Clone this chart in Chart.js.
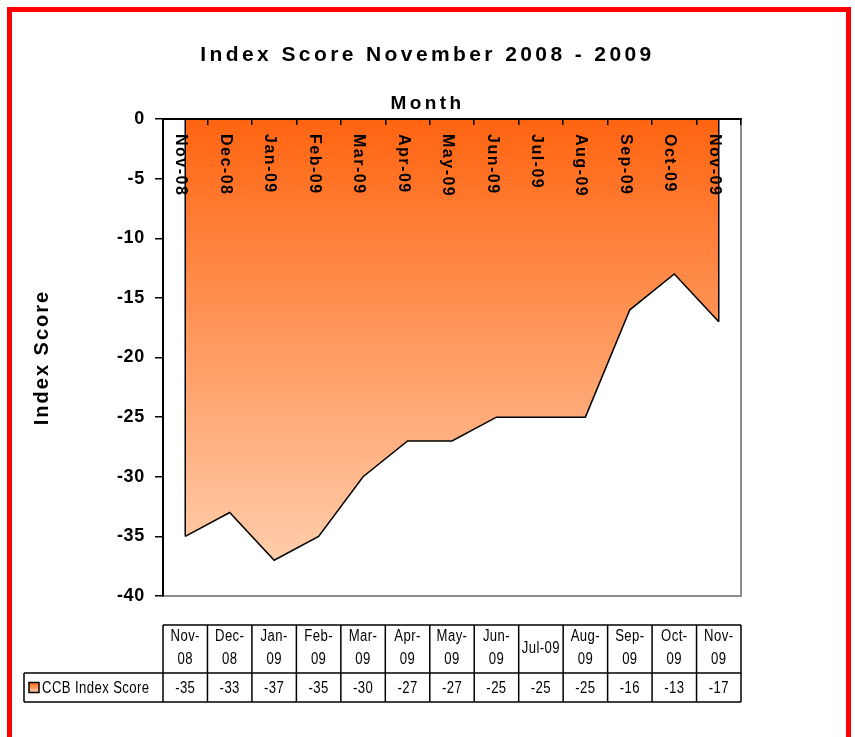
<!DOCTYPE html>
<html><head><meta charset="utf-8">
<script src="https://cdn.jsdelivr.net/npm/chart.js@4.4.1/dist/chart.umd.min.js"></script>
<style>
html,body{margin:0;padding:0;background:#fff;}
#wrap{position:relative;width:855px;height:737px;overflow:hidden;background:#fff;}
#frame{position:absolute;left:7px;top:7px;width:834px;height:800px;border:5px solid #ff0000;pointer-events:none;}
canvas{position:absolute;left:0;top:0;}
</style></head><body>
<div id="wrap"><canvas id="c" width="855" height="737"></canvas><div id="frame"></div></div>
<script>
const categories = ['Nov-08','Dec-08','Jan-09','Feb-09','Mar-09','Apr-09','May-09','Jun-09','Jul-09','Aug-09','Sep-09','Oct-09','Nov-09'];
const indexScores = [-35,-33,-37,-35,-30,-27,-27,-25,-25,-25,-16,-13,-17];
const seriesName = 'CCB Index Score';
const yTicks = [0,-5,-10,-15,-20,-25,-30,-35,-40];
const chartTitle = 'Index Score November 2008 - 2009';
const xTitle = 'Month';
const yTitle = 'Index Score';

const FONT = "'Liberation Sans', Arial, sans-serif";
const NARROW_SCALE = 0.82;

function makeGradient(c, y0, y1) {
  const g = c.createLinearGradient(0, y0, 0, y1);
  g.addColorStop(0, '#FF6410');
  g.addColorStop(1, '#FFCDAB');
  return g;
}

function fillGradient(context) {
  const chart = context.chart;
  if (!chart.chartArea || !chart.scales.y) return '#FF9955';
  const y = chart.scales.y;
  return makeGradient(chart.ctx, y.getPixelForValue(0), y.getPixelForValue(Math.min(...indexScores)));
}

function narrowText(ctx, text, x, y) {
  ctx.save();
  ctx.translate(x, y);
  ctx.scale(NARROW_SCALE, 1);
  ctx.fillText(text, 0, 0);
  ctx.restore();
}

function drawTable(chart) {
  const ctx = chart.ctx, x = chart.scales.x, area = chart.chartArea;
  const colW = x.getPixelForValue(1) - x.getPixelForValue(0);
  const top = area.bottom + 29, mid = area.bottom + 77, bot = area.bottom + 106;
  const legendLeft = 24;
  const line = (a, b, c, d) => { ctx.beginPath(); ctx.moveTo(a, b); ctx.lineTo(c, d); ctx.stroke(); };
  ctx.save();
  ctx.letterSpacing = '0.5px';
  ctx.strokeStyle = '#000';
  ctx.lineWidth = 1.5;
  const left = x.getPixelForValue(0) - colW / 2;
  const right = x.getPixelForValue(categories.length - 1) + colW / 2;
  line(left, top, right, top);
  line(legendLeft, mid, right, mid);
  line(legendLeft, bot, right, bot);
  line(legendLeft, mid, legendLeft, bot);
  for (let i = 0; i <= categories.length; i++) {
    const xx = left + i * colW;
    line(xx, top, xx, bot);
  }
  ctx.fillStyle = '#000';
  ctx.font = '16px ' + FONT;
  ctx.textAlign = 'center';
  ctx.textBaseline = 'middle';
  categories.forEach((lab, i) => {
    const cx = x.getPixelForValue(i);
    const w = ctx.measureText(lab).width * NARROW_SCALE;
    const k = lab.indexOf('-');
    if (w > colW - 5 && k >= 0) {
      narrowText(ctx, lab.slice(0, k + 1), cx, top + 12);
      narrowText(ctx, lab.slice(k + 1), cx, top + 35);
    } else {
      narrowText(ctx, lab, cx, (top + mid) / 2);
    }
    narrowText(ctx, String(indexScores[i]), cx, (mid + bot) / 2 + 1);
  });
  const sy = (mid + bot) / 2 - 5;
  ctx.fillStyle = makeGradient(ctx, sy, sy + 10);
  ctx.fillRect(29, sy, 10, 10);
  ctx.lineWidth = 1.5;
  ctx.strokeRect(29, sy, 10, 10);
  ctx.fillStyle = '#000';
  ctx.textAlign = 'left';
  narrowText(ctx, seriesName, 42, (mid + bot) / 2 + 1);
  ctx.restore();
}

// letter-spacing switches placed between Chart.js drawing layers (z order)
const spacingLayers = [[-3, '2px'], [-1.5, '0.7px'], [-0.5, '3.4px']];

const stylePlugin = {
  id: 'stylePlugin',
  beforeInit(chart) {
    Chart.layouts.addBox(chart, {
      position: 'chartArea', fullSize: false, weight: 0, options: {},
      left: 0, top: 0, right: 0, bottom: 0, width: 0, height: 0,
      isHorizontal() { return false; },
      update() {}, draw() {},
      _layers() {
        return spacingLayers.map(([z, sp]) => ({ z, draw() { chart.ctx.letterSpacing = sp; } }));
      }
    });
  },
  afterDatasetsDraw(chart) {
    const ctx = chart.ctx;
    const meta = chart.getDatasetMeta(0);
    const y0 = chart.scales.y.getPixelForValue(0);
    ctx.save();
    ctx.strokeStyle = '#000';
    ctx.lineWidth = 1.5;
    [meta.data[0], meta.data[meta.data.length - 1]].forEach(p => {
      ctx.beginPath(); ctx.moveTo(p.x, p.y); ctx.lineTo(p.x, y0); ctx.stroke();
    });
    ctx.restore();
    ctx.letterSpacing = '1.5px';
  },
  afterDraw(chart) { chart.ctx.letterSpacing = '0px'; drawTable(chart); }
};

new Chart(document.getElementById('c'), {
  type: 'line',
  data: {
    labels: categories,
    datasets: [{
      label: seriesName, data: indexScores,
      borderColor: '#000', borderWidth: 1.5, pointRadius: 0, pointHoverRadius: 0,
      tension: 0, fill: 'origin', backgroundColor: fillGradient
    }]
  },
  options: {
    responsive: false, animation: false, events: [],
    layout: { padding: 0, autoPadding: false },
    plugins: {
      legend: { display: false },
      tooltip: { enabled: false },
      title: { display: true, text: chartTitle, color: '#000',
        font: { family: FONT, size: 21, weight: 'bold', lineHeight: 1.2 },
        padding: { top: 42.4, bottom: 0 } },
      subtitle: { display: true, text: xTitle, color: '#000',
        font: { family: FONT, size: 19, weight: 'bold', lineHeight: 1 },
        padding: { top: 26.9, bottom: 0 } }
    },
    scales: {
      x: {
        type: 'category', position: 'top', offset: true,
        grid: { offset: true, drawOnChartArea: false, drawTicks: true, tickLength: -6, color: '#000', lineWidth: 1.5, z: 1 },
        border: { display: true, color: '#000', width: 2, z: 1 },
        ticks: { autoSkip: false, minRotation: -90, maxRotation: -90, mirror: true, padding: 15, labelOffset: -4.5,
          color: '#000', font: { family: FONT, size: 16, weight: 'bold', lineHeight: 1.2 }, z: 1 },
        afterFit(s) { s.height = 5.5; }
      },
      x2: {
        type: 'category', position: 'bottom', offset: true,
        grid: { display: true, drawOnChartArea: false, drawTicks: false },
        border: { display: true, color: '#8c8c8c', width: 2 },
        ticks: { display: false },
        afterFit(s) { s.height = 141; }
      },
      y: {
        type: 'linear', position: 'left', min: -40, max: 0,
        afterBuildTicks(s) { s.ticks = yTicks.map(v => ({ value: v })); },
        grid: { drawOnChartArea: false, tickLength: 8, color: '#000', lineWidth: 1.5, z: -2 },
        border: { color: '#000', width: 2, z: 1 },
        ticks: { color: '#000', padding: 10, font: { family: FONT, size: 18, weight: 'bold' }, z: -1 },
        title: { display: true, text: yTitle, color: '#000',
          font: { family: FONT, size: 20, weight: 'bold', lineHeight: 1.2 },
          padding: { top: 30, bottom: 0 } },
        afterFit(s) { s.width = 163; }
      },
      y2: {
        type: 'linear', position: 'right',
        grid: { drawOnChartArea: false, drawTicks: false },
        border: { color: '#8c8c8c', width: 2 },
        ticks: { display: false },
        afterFit(s) { s.width = 114; }
      }
    }
  },
  plugins: [stylePlugin]
});
</script>
</body></html>
